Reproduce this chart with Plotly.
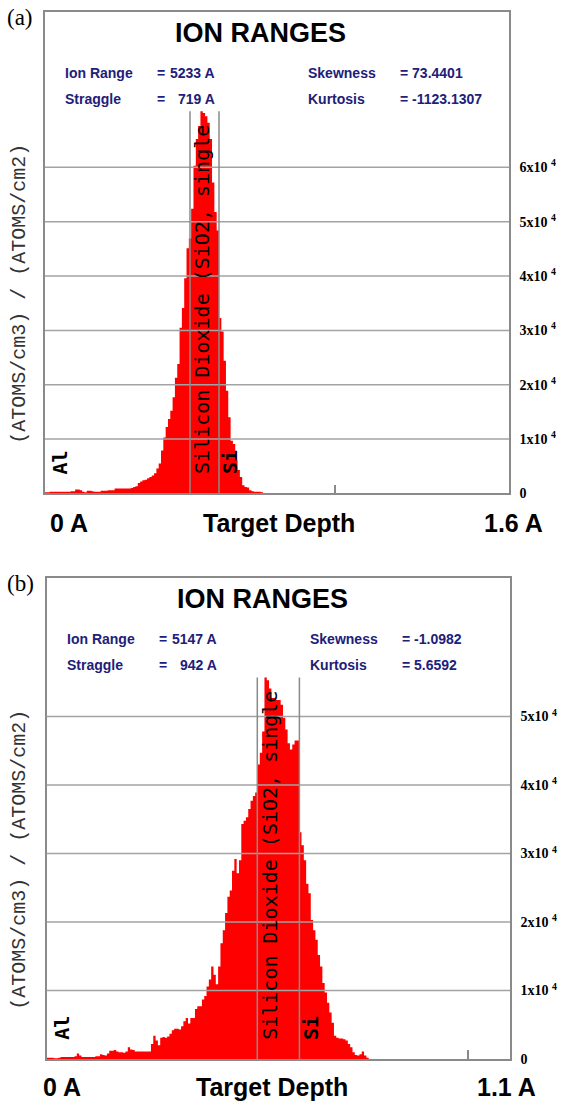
import numpy as np
import plotly.graph_objects as go

W, H = 563, 1111

# ---------------- data ----------------
# layers of the target (Angstrom)
layer_names = ["Al", "Silicon Dioxide (SiO2, single", "Si"]
layer_starts = [0, 5000, 6000]

# panel (a): histogram of ion ranges, bin width 80 A, depth 0..16000 A
a_bin_width = 80.0
a_depth_max = 16000.0
a_counts = [
    200, 200, 300, 300, 300, 300, 300, 300, 300, 300,
    300, 400, 400, 700, 700, 600, 300, 200, 500, 500,
    400, 300, 300, 300, 500, 500, 500, 600, 600, 600,
    900, 900, 900, 900, 900, 900, 900, 1000, 1200, 1300,
    1900, 2200, 2400, 2500, 2800, 3000, 3300, 3700, 4600, 5500,
    7900, 10300, 12200, 13700, 15200, 17700, 21300, 23800, 30500, 34100,
    39600, 45100, 46900, 52400, 60300, 65200, 67600, 70300, 70000, 69400,
    68200, 65200, 57200, 51800, 48400, 32300, 29800, 24400, 18900, 14000,
    9700, 9100, 6100, 4300, 3000, 1500, 1200, 1100, 600, 400,
    300, 300, 300, 200,
]
a_stats_left = [("Ion Range", "5233 A"), ("Straggle", "719 A")]
a_stats_right = [("Skewness", "= 73.4401"), ("Kurtosis", "= -1123.1307")]
a_yticks = [0, 10000, 20000, 30000, 40000, 50000, 60000]
a_yticktext = ["0", "1x10", "2x10", "3x10", "4x10", "5x10", "6x10"]
a_xlabels = ["0 A", "Target Depth", "1.6 A"]

# panel (b): bin width 55 A, depth 0..11000 A
b_bin_width = 55.0
b_depth_max = 11000.0
b_counts = [
    200, 200, 200, 100, 100, 200, 300, 300, 300, 300,
    300, 300, 400, 800, 500, 300, 300, 300, 300, 300,
    300, 400, 400, 700, 600, 500, 800, 1200, 1200, 1300,
    1100, 1000, 1000, 900, 1100, 1700, 1400, 1300, 1100, 1100,
    1100, 1100, 1100, 1100, 1100, 2200, 3400, 2700, 2000, 3100,
    3200, 3100, 3300, 3700, 4200, 4400, 4400, 4300, 4800, 5500,
    6000, 5200, 6000, 6000, 7300, 7700, 7700, 8700, 9200, 10600,
    11600, 13500, 12300, 10900, 13500, 16900, 18800, 21300, 23700, 24600,
    27500, 29200, 27100, 29000, 34300, 34800, 35300, 36500, 37700, 38400,
    38900, 43000, 44700, 47800, 55700, 55300, 54100, 52700, 52700, 52400,
    52400, 51700, 49800, 48100, 46100, 45200, 45900, 46500, 46500, 33100,
    31200, 29000, 25600, 24200, 20300, 18800, 17400, 15200, 13500, 11100,
    9700, 8200, 6800, 5300, 3400, 3100, 3000, 3000, 2900, 2700,
    2200, 1700, 1000, 600, 500, 700, 1100, 500, 200,
]
b_stats_left = [("Ion Range", "5147 A"), ("Straggle", "942 A")]
b_stats_right = [("Skewness", "= -1.0982"), ("Kurtosis", "= 5.6592")]
b_yticks = [0, 10000, 20000, 30000, 40000, 50000]
b_yticktext = ["0", "1x10", "2x10", "3x10", "4x10", "5x10"]
b_xlabels = ["0 A", "Target Depth", "1.1 A"]

# ---------------- styling ----------------
RED = "#ff0000"
GRAY = "#8a8a8a"
GRID = "#a3a3a3"
NAVY = "#20207a"
SANS = "Liberation Sans, Arial, sans-serif"
SERIF = "Liberation Serif, Times New Roman, serif"
MONO_SANS = "DejaVu Sans Mono, monospace"
MONO_SERIF = "Liberation Mono, Courier New, monospace"


def X(p):
    return p / W


def Y(p):
    return 1 - p / H


fig = go.Figure()
annotations = []
shapes = []

panels = [
    dict(
        name="(a)", counts=a_counts, bw=a_bin_width, dmax=a_depth_max,
        yticks=a_yticks, ytext=a_yticktext, stats_l=a_stats_left,
        stats_r=a_stats_right, xlabels=a_xlabels,
        box=(45, 509, 12, 497), ymax=88600, xa="x", ya="y",
        lab_y=18, title=(260, 33), rows=(74, 100),
        cols=(63, 155, 217, 306, 398), ytitle=(20, 296),
        bottom=(48, 279, 545, 527),
    ),
    dict(
        name="(b)", counts=b_counts, bw=b_bin_width, dmax=b_depth_max,
        yticks=b_yticks, ytext=b_yticktext, stats_l=b_stats_left,
        stats_r=b_stats_right, xlabels=b_xlabels,
        box=(46.7, 510, 582.6, 1066.7), ymax=70160, xa="x2", ya="y2",
        lab_y=588, title=(262, 603), rows=(644, 670),
        cols=(65, 157, 219, 308, 400), ytitle=(20, 866),
        bottom=(41, 272, 537.5, 1095),
    ),
]

for i, p in enumerate(panels):
    counts = np.array(p["counts"], dtype=float)
    n = len(counts)
    edges = np.arange(n + 1) * p["bw"]
    ys = np.append(counts, 0.0)
    fig.add_trace(go.Scatter(
        x=edges, y=ys, mode="lines", line=dict(width=0, shape="hv", color=RED),
        fill="tozeroy", fillcolor=RED, xaxis=p["xa"], yaxis=p["ya"],
        showlegend=False, hoverinfo="skip",
    ))
    sfx = "" if i == 0 else "2"
    xl, xr, yt, yb = p["box"]
    fig.update_layout({
        "xaxis" + sfx: dict(
            domain=[X(xl), X(xr)], range=[0, p["dmax"]], anchor="y" + sfx,
            showgrid=False, zeroline=False, showline=True, mirror=True,
            linecolor=GRAY, linewidth=1.5, ticks="inside", ticklen=9,
            tickwidth=1.5, tickcolor=GRAY, tickvals=[0, 10000],
            showticklabels=False, fixedrange=True,
        ),
        "yaxis" + sfx: dict(
            domain=[Y(yb), Y(yt)], range=[0, p["ymax"]], anchor="x" + sfx,
            side="right", showgrid=False, zeroline=False, showline=True,
            mirror=True, linecolor=GRAY, linewidth=1.5, ticks="",
            tickvals=p["yticks"],
            ticktext=["<b>%s</b>" % t if t == "0" else "<b>%s <sup>4</sup></b>" % t
                      for t in p["ytext"]],
            tickfont=dict(family=SERIF, size=14, color="black"),
            ticklabelstandoff=6, fixedrange=True,
        ),
    })
    # grid lines drawn over the data
    for v in p["yticks"][1:]:
        shapes.append(dict(
            type="line", xref=p["xa"] + " domain", yref=p["ya"],
            x0=0, x1=1, y0=v, y1=v, line=dict(color=GRID, width=1.5),
            layer="above",
        ))
    # layer boundary lines
    top = float(counts.max())
    for s in layer_starts[1:]:
        shapes.append(dict(
            type="line", xref=p["xa"], yref=p["ya"], x0=s, x1=s, y0=0,
            y1=top, line=dict(color=GRAY, width=1.5), layer="above",
        ))
    # layer names
    for name, s, dx, bold in zip(layer_names, layer_starts, [15, 12, 11.5],
                                 [True, False, True]):
        annotations.append(dict(
            text=("<b>%s</b>" % name) if bold else name, x=s, y=0,
            xref=p["xa"], yref=p["ya"],
            xanchor="center", yanchor="bottom", xshift=dx, yshift=17,
            textangle=-90, showarrow=False,
            font=dict(family=MONO_SANS, size=20, color="black"),
        ))
    # panel label
    annotations.append(dict(
        text=p["name"], x=X(5), y=Y(p["lab_y"]), xref="paper", yref="paper",
        xanchor="left", yanchor="middle", showarrow=False,
        font=dict(family=SERIF, size=23, color="black"),
    ))
    # title
    annotations.append(dict(
        text="<b>ION RANGES</b>", x=X(p["title"][0]), y=Y(p["title"][1]),
        xref="paper", yref="paper", xanchor="center", yanchor="middle",
        showarrow=False, font=dict(family=SANS, size=27, color="black"),
    ))
    c0, c1, c2, c3, c4 = p["cols"]
    for (lab, val), (rlab, rval), ry in zip(p["stats_l"], p["stats_r"], p["rows"]):
        for txt, xx, anc in [(lab, c0, "left"), ("=", c1, "left"),
                             (val, c2, "right"), (rlab, c3, "left"),
                             (rval, c4, "left")]:
            annotations.append(dict(
                text="<b>%s</b>" % txt, x=X(xx), y=Y(ry), xref="paper",
                yref="paper", xanchor=anc, yanchor="middle", showarrow=False,
                font=dict(family=SANS, size=14, color=NAVY),
            ))
    # y-axis title
    annotations.append(dict(
        text="(ATOMS/cm3) / (ATOMS/cm2)", x=X(p["ytitle"][0]),
        y=Y(p["ytitle"][1]), xref="paper", yref="paper", xanchor="center",
        yanchor="middle", textangle=-90, showarrow=False,
        font=dict(family=MONO_SERIF, size=20, color="#333333"),
    ))
    # bottom labels
    bl, bc, br, by = p["bottom"]
    for txt, xx, anc in zip(p["xlabels"], [bl, bc, br], ["left", "center", "right"]):
        annotations.append(dict(
            text="<b>%s</b>" % txt, x=X(xx), y=Y(by), xref="paper",
            yref="paper", xanchor=anc, yanchor="middle", showarrow=False,
            font=dict(family=SANS, size=25, color="black"),
        ))

fig.update_layout(
    width=W, height=H, margin=dict(l=0, r=0, t=0, b=0),
    paper_bgcolor="white", plot_bgcolor="white", showlegend=False,
    annotations=annotations, shapes=shapes,
)

fig.write_html("out.html")
